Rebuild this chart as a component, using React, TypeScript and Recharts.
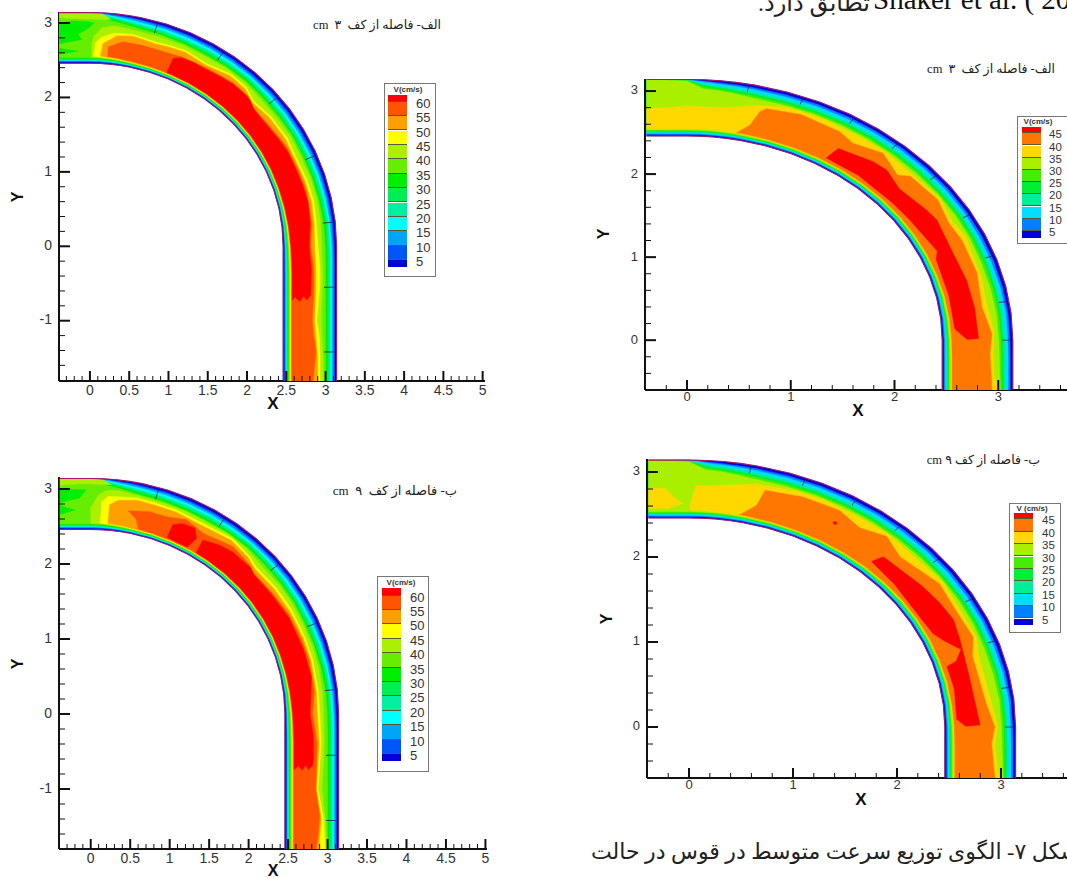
import { Scatter, ScatterChart, XAxis, YAxis } from "recharts";

type Pt = [number, number];

// s < 0: inlet, x = s / 100. 0..90: bend angle in degrees. s > 90: outlet, y = -(s - 90) / 100
const stations = [-39, 0, 3, 6, 9, 12, 18, 24, 30, 36, 42, 48, 54, 60, 66, 72, 78, 84, 90, 110, 130, 150, 190, 230, 271];
const innerWall = 2.46;
const outerWall = 3.14;

// width of the inner wall bands at each station
const leftInner = [0.115, 0.115, 0.11, 0.1, 0.09, 0.08, 0.075, 0.07, 0.07, 0.07, 0.07, 0.07, 0.07, 0.07, 0.07, 0.07, 0.075, 0.085, 0.1, 0.11, 0.115, 0.115, 0.115, 0.115, 0.115];
const rightInner = [0.115, 0.115, 0.115, 0.11, 0.105, 0.1, 0.095, 0.09, 0.09, 0.09, 0.09, 0.09, 0.09, 0.09, 0.09, 0.09, 0.095, 0.1, 0.11, 0.115, 0.115, 0.115];

// ---- 60 cm/s scale (left column) ----
const leftLevels = ["60", "55", "50", "45", "40", "35", "30", "25", "20", "15", "10", "5"];
const leftColors = ["#ff0000", "#ff5500", "#ffa000", "#ffff00", "#aaf000", "#66ee00", "#00ee00", "#00ee55", "#00f0a0", "#00ffff", "#00a5f5", "#0055f5", "#0000d8"];

const leftRow5 = [3.14, 3.14, 3.135, 3.125, 3.118, 3.112, 3.108, 3.105, 3.105, 3.105, 3.105, 3.106, 3.105, 3.105, 3.106, 3.105, 3.105, 3.108, 3.11, 3.115, 3.115, 3.115, 3.115, 3.115, 3.115];
const leftRow10 = [3.14, 3.14, 3.13, 3.115, 3.105, 3.098, 3.09, 3.088, 3.085, 3.085, 3.085, 3.086, 3.085, 3.085, 3.086, 3.085, 3.088, 3.09, 3.095, 3.1, 3.1, 3.1, 3.1, 3.1, 3.1];
const leftRow15 = [3.14, 3.14, 3.12, 3.1, 3.085, 3.075, 3.068, 3.062, 3.06, 3.06, 3.062, 3.06, 3.06, 3.06, 3.06, 3.062, 3.065, 3.07, 3.075, 3.08, 3.08, 3.08, 3.08, 3.08, 3.08];
const leftRow20 = [3.14, 3.14, 3.105, 3.085, 3.065, 3.05, 3.04, 3.035, 3.035, 3.035, 3.04, 3.035, 3.035, 3.035, 3.035, 3.04, 3.045, 3.05, 3.055, 3.06, 3.06, 3.06, 3.06, 3.06, 3.06];
const leftRow25 = [3.14, 3.135, 3.09, 3.07, 3.045, 3.03, 3.02, 3.012, 3.01, 3.012, 3.02, 3.01, 3.01, 3.01, 3.01, 3.015, 3.02, 3.03, 3.035, 3.04, 3.04, 3.04, 3.04, 3.04, 3.04];
const leftRow30 = [3.14, 3.13, 3.075, 3.055, 3.03, 3.01, 3.0, 2.99, 2.985, 2.99, 3.0, 2.985, 2.985, 2.985, 2.985, 2.99, 3.0, 3.01, 3.015, 3.02, 3.02, 3.02, 3.02, 3.02, 3.02];
const leftRow35 = [3.14, 3.12, 3.06, 3.035, 3.01, 2.99, 2.98, 2.97, 2.965, 2.975, 2.98, 2.97, 2.97, 2.975, 2.97, 2.975, 2.98, 2.99, 2.995, 3.0, 3.0, 3.0, 3.0, 3.0, 3.0];

const aLime: Pt[] = [[0.5, 2.545], [0.5, 2.72], [1, 2.82], [3, 2.94], [6, 2.98], [9, 2.965], [12, 2.955], [18, 2.95], [24, 2.95], [30, 2.945], [36, 2.955], [42, 2.955], [48, 2.94], [54, 2.94], [60, 2.95], [66, 2.945], [72, 2.955], [78, 2.96], [84, 2.955], [90, 2.95], [130, 2.965], [190, 2.945], [230, 2.965], [271, 2.975]];
const aYellow: Pt[] = [[1, 2.555], [1.5, 2.74], [3, 2.81], [6, 2.88], [11, 2.9], [17, 2.87], [21, 2.885], [25, 2.9], [31, 2.87], [38, 2.93], [43, 2.92], [47, 2.855], [53, 2.89], [60, 2.905], [65, 2.885], [72, 2.905], [78, 2.915], [84, 2.9], [90, 2.905], [120, 2.93], [140, 2.93], [190, 2.89], [210, 2.92], [240, 2.93], [271, 2.93]];
const aOrange: Pt[] = [[3, 2.565], [3.5, 2.73], [5, 2.78], [7, 2.85], [11, 2.875], [17, 2.845], [21, 2.86], [25, 2.875], [31, 2.845], [38, 2.905], [43, 2.895], [47, 2.83], [53, 2.865], [60, 2.875], [65, 2.86], [72, 2.875], [78, 2.885], [84, 2.87], [90, 2.86], [120, 2.875], [150, 2.875], [190, 2.86], [210, 2.875], [240, 2.9], [271, 2.9]];
const aDeep: Pt[] = [[5, 2.575], [5, 2.69], [8.7, 2.78], [14, 2.78], [20.6, 2.78], [24.7, 2.8], [32, 2.82], [39.6, 2.855], [45, 2.85], [48, 2.79], [54.6, 2.8], [62, 2.84], [69, 2.845], [75, 2.855], [84, 2.84], [90, 2.81], [120, 2.85], [150, 2.85], [190, 2.83], [210, 2.85], [232, 2.88], [250, 2.86], [271, 2.84]];
const aRed: Pt[] = [[22.7, 2.55], [22.8, 2.74], [24.7, 2.79], [28, 2.8], [32, 2.8], [36, 2.82], [40, 2.84], [44, 2.84], [46, 2.83], [49, 2.78], [55, 2.78], [59, 2.8], [63, 2.82], [68, 2.82], [73, 2.83], [78, 2.84], [84, 2.82], [90, 2.79], [120, 2.82], [156, 2.81], [162, 2.76], [157, 2.72], [164.5, 2.67], [158, 2.61], [162, 2.58]];
const aInletLime: Pt[] = [[-39, 3.14], [0, 3.14], [3, 3.13], [5, 3.06], [0, 3.05], [-39, 3.07]];
const aInletGreen: Pt[] = [[-39, 3.0], [-20, 3.03], [-5, 3.02], [1, 3.0], [-3, 2.92], [-15, 2.85], [-10, 2.78], [-39, 2.72]];
const aInletStreak: Pt[] = [[-39, 2.66], [-15, 2.62], [-39, 2.58]];

const cLime: Pt[] = [[0, 2.545], [0, 2.75], [2, 2.93], [4, 2.99], [7, 3.0], [12, 2.97], [18, 2.96], [24, 2.96], [30, 2.95], [36, 2.965], [42, 2.96], [48, 2.93], [54, 2.945], [60, 2.95], [66, 2.945], [72, 2.95], [78, 2.955], [84, 2.95], [90, 2.95], [130, 2.96], [190, 2.93], [230, 2.97], [271, 3.0]];
const cYellow: Pt[] = [[2.7, 2.555], [2.8, 2.83], [4.3, 2.91], [11.3, 2.94], [16.5, 2.93], [21.8, 2.93], [29, 2.91], [37.6, 2.95], [43.8, 2.91], [47, 2.87], [54.4, 2.89], [61, 2.9], [64, 2.895], [69.5, 2.9], [75.5, 2.905], [84, 2.9], [90, 2.905], [130, 2.92], [190, 2.88], [230, 2.95], [271, 2.97]];
const cOrange: Pt[] = [[4.9, 2.565], [4.9, 2.8], [7, 2.87], [11.6, 2.91], [16.5, 2.9], [21.8, 2.9], [29, 2.88], [37.6, 2.92], [43.8, 2.885], [47, 2.84], [54.4, 2.86], [61, 2.87], [64, 2.87], [69.5, 2.875], [75.5, 2.88], [84, 2.875], [90, 2.87], [130, 2.895], [190, 2.86], [230, 2.92], [255, 2.9], [271, 2.89]];
const cDeep: Pt[] = [[13.6, 2.55], [12.5, 2.66], [9.9, 2.75], [15.5, 2.8], [20, 2.8], [25, 2.86], [30.7, 2.8], [39, 2.87], [45.4, 2.83], [48, 2.79], [54.8, 2.81], [62, 2.84], [69, 2.85], [75, 2.86], [84, 2.85], [90, 2.81], [130, 2.87], [190, 2.85], [225, 2.9], [255, 2.88], [271, 2.85]];
const cRedBlob: Pt[] = [[22.3, 2.545], [22.4, 2.73], [24.4, 2.79], [28, 2.81], [29.8, 2.7], [28.8, 2.54], [25.5, 2.535]];
const cRed: Pt[] = [[31.8, 2.545], [31.5, 2.72], [36, 2.78], [39.8, 2.81], [46, 2.81], [48, 2.78], [54.8, 2.79], [63, 2.82], [72, 2.83], [80, 2.84], [90, 2.78], [120, 2.82], [150, 2.82], [155, 2.815], [159, 2.81], [164, 2.76], [158, 2.72], [165, 2.68], [159, 2.63], [164, 2.58]];
const cInletLime: Pt[] = [[-39, 3.14], [0, 3.14], [3, 3.12], [5, 3.07], [-10, 3.07], [-39, 3.05]];
const cInletGreen: Pt[] = [[-39, 3.0], [-6, 2.99], [-14, 2.88], [-39, 2.82]];
const cInletStreak: Pt[] = [[-39, 2.78], [-20, 2.72], [-39, 2.66]];

// ---- 45 cm/s scale (right column) ----
const rightLevels = ["45", "40", "35", "30", "25", "20", "15", "10", "5"];
const rightColors = ["#ff0000", "#ff7700", "#ffd800", "#aaee00", "#44ee00", "#00ee33", "#00ee99", "#00ddff", "#0080ff", "#0000d8"];

const rightRow5 = [3.14, 3.14, 3.125, 3.115, 3.11, 3.108, 3.105, 3.105, 3.105, 3.105, 3.105, 3.105, 3.105, 3.105, 3.105, 3.105, 3.107, 3.11, 3.112, 3.115, 3.115, 3.115];
const rightRow10 = [3.14, 3.14, 3.11, 3.1, 3.09, 3.085, 3.08, 3.08, 3.08, 3.08, 3.08, 3.08, 3.08, 3.08, 3.08, 3.08, 3.085, 3.09, 3.092, 3.095, 3.095, 3.095];
const rightRow15 = [3.14, 3.135, 3.09, 3.08, 3.065, 3.055, 3.05, 3.05, 3.05, 3.05, 3.05, 3.05, 3.05, 3.05, 3.05, 3.05, 3.055, 3.06, 3.065, 3.07, 3.07, 3.07];
const rightRow20 = [3.14, 3.13, 3.07, 3.055, 3.04, 3.03, 3.025, 3.025, 3.025, 3.025, 3.025, 3.025, 3.025, 3.03, 3.03, 3.03, 3.035, 3.04, 3.045, 3.05, 3.05, 3.05];
const rightRow25 = [3.14, 3.125, 3.05, 3.035, 3.02, 3.01, 3.005, 3.005, 3.005, 3.005, 3.005, 3.005, 3.005, 3.01, 3.01, 3.01, 3.015, 3.02, 3.025, 3.03, 3.03, 3.03];
const rightRow30 = [3.14, 3.12, 3.03, 3.02, 3.0, 2.985, 2.98, 2.985, 2.985, 2.985, 2.985, 2.985, 2.99, 2.99, 2.99, 2.985, 2.99, 3.0, 3.005, 3.01, 3.015, 3.02];

const bYellow: Pt[] = [[-39, 2.79], [-20, 2.8], [0, 2.82], [7, 2.82], [13, 2.9], [19, 2.97], [26, 2.97], [33, 2.96], [40, 2.97], [46, 2.95], [55, 2.98], [61, 2.93], [65, 2.96], [75, 2.94], [81, 2.92], [88, 2.96], [110, 2.95], [130, 2.96], [150, 3.0]];
const bOrange: Pt[] = [[10.8, 2.54], [13.2, 2.66], [14.3, 2.84], [15.4, 2.89], [22, 2.93], [30.4, 2.91], [34, 2.86], [40, 2.94], [45.6, 2.84], [47.5, 2.92], [55, 2.95], [60.8, 2.89], [65.6, 2.91], [73.8, 2.91], [82, 2.87], [88.5, 2.94], [106, 2.92], [150, 2.94]];
const bRed: Pt[] = [[31.4, 2.57], [32.3, 2.73], [39.9, 2.8], [43.3, 2.81], [48.3, 2.74], [55.8, 2.79], [59, 2.81], [67.8, 2.77], [75, 2.79], [82, 2.8], [89.6, 2.81], [89.8, 2.7], [87, 2.585], [78, 2.58], [68, 2.59], [66, 2.64], [62, 2.61], [56, 2.59], [50, 2.58], [40, 2.58]];

const dYellowBlob: Pt[] = [[-39, 2.81], [-23, 2.81], [-15, 2.71], [-6, 2.63], [-21, 2.57], [-39, 2.57]];
const dYellow: Pt[] = [[0.2, 2.55], [0.2, 2.62], [1.4, 2.84], [6, 2.86], [13, 2.93], [20, 2.96], [26, 2.97], [33, 2.96], [40, 2.97], [46, 2.95], [55, 2.98], [61, 2.95], [69, 2.96], [73, 2.91], [84, 2.92], [90, 2.97], [110, 2.94], [150, 2.98]];
const dOrange: Pt[] = [[11, 2.54], [14, 2.69], [14.7, 2.88], [22, 2.92], [29.6, 2.93], [35, 2.86], [40.3, 2.94], [45.4, 2.85], [55, 2.94], [60.9, 2.91], [68.8, 2.93], [73, 2.85], [84.4, 2.87], [90, 2.94], [109, 2.91], [150, 2.94]];
const dRed: Pt[] = [[42, 2.62], [43, 2.74], [53.7, 2.79], [58.9, 2.82], [63.6, 2.84], [68.6, 2.8], [77.6, 2.76], [89.5, 2.8], [89.8, 2.66], [88, 2.575], [80, 2.59], [74, 2.58], [73.3, 2.68], [70.8, 2.77], [67.4, 2.65], [64.9, 2.59], [60.7, 2.57], [50, 2.59]];
const dRedSpeck: Pt[] = [[29.8, 2.78], [30.3, 2.8], [30.8, 2.78], [30.3, 2.76]];

// short grid marks crossing the outer bands: [station, from r, to r]
const leftMarks = [[16, 2.98, 3.1], [33, 2.98, 3.1], [50, 2.98, 3.1], [67, 2.98, 3.1], [84, 2.98, 3.1], [145, 2.98, 3.1], [232, 2.98, 3.1]];
const rightMarks = [[11, 3.04, 3.12], [21, 3.04, 3.12], [31, 3.04, 3.12], [40.6, 3.04, 3.12], [50.5, 3.04, 3.12], [61, 3.04, 3.12], [71, 3.04, 3.12], [81.4, 3.04, 3.12], [90, 3.04, 3.12]];

const leftXTicks = [-0.3, -0.2, -0.1, 0, 0.1, 0.2, 0.3, 0.4, 0.5, 0.6, 0.7, 0.8, 0.9, 1, 1.1, 1.2, 1.3, 1.4, 1.5, 1.6, 1.7, 1.8, 1.9, 2, 2.1, 2.2, 2.3, 2.4, 2.5, 2.6, 2.7, 2.8, 2.9, 3, 3.1, 3.2, 3.3, 3.4, 3.5, 3.6, 3.7, 3.8, 3.9, 4, 4.1, 4.2, 4.3, 4.4, 4.5, 4.6, 4.7, 4.8, 4.9, 5];
const leftXLabels = [0, 0.5, 1, 1.5, 2, 2.5, 3, 3.5, 4, 4.5, 5];
const leftYTicks = [-1.6, -1.4, -1.2, -1, -0.8, -0.6, -0.4, -0.2, 0, 0.2, 0.4, 0.6, 0.8, 1, 1.2, 1.4, 1.6, 1.8, 2, 2.2, 2.4, 2.6, 2.8, 3];
const leftYLabels = [-1, 0, 1, 2, 3];
const rightXTicks = [-0.2, 0, 0.2, 0.4, 0.6, 0.8, 1, 1.2, 1.4, 1.6, 1.8, 2, 2.2, 2.4, 2.6, 2.8, 3, 3.2, 3.4, 3.6];
const rightXLabels = [0, 1, 2, 3];
const rightYTicks = [-0.4, -0.2, 0, 0.2, 0.4, 0.6, 0.8, 1, 1.2, 1.4, 1.6, 1.8, 2, 2.2, 2.4, 2.6, 2.8, 3];
const rightYLabels = [0, 1, 2, 3];

const toXY = ([s, r]: Pt) => {
  if (s < 0) return { x: s / 100, y: r };
  if (s > 90) return { x: r, y: -(s - 90) / 100 };
  const a = (s * Math.PI) / 180;
  return { x: r * Math.sin(a), y: r * Math.cos(a) };
};

const nearestIndex = (s: number) => {
  let best = 0;
  stations.forEach((v, i) => {
    if (Math.abs(v - s) < Math.abs(stations[best] - s)) best = i;
  });
  return best;
};

// closed region: outer edge as read, back along the inner wall bands.
// rIn is the level's position on the outlet, scaled by the band width at each station
const band = (outer: Pt[], rIn: number, widths: number[]): Pt[] => {
  const first = outer[0][0];
  const last = outer[outer.length - 1][0];
  const inner = (s: number) => innerWall + ((rIn - innerWall) / 0.12) * widths[Math.min(nearestIndex(s), widths.length - 1)];
  const back = stations.filter((s) => s > first && s < last).reverse();
  return [...outer, [last, inner(last)], ...back.map((s) => [s, inner(s)] as Pt), [first, inner(first)]];
};
const row = (values: number[]): Pt[] => values.map((r, i) => [stations[i], r]);

type Layer = [Pt[], string];

const leftBase = (): Layer[] => [
  [band(row(stations.map(() => outerWall)), innerWall, leftInner), leftColors[12]],
  [band(row(leftRow5), 2.478, leftInner), leftColors[11]],
  [band(row(leftRow10), 2.488, leftInner), leftColors[10]],
  [band(row(leftRow15), 2.497, leftInner), leftColors[9]],
  [band(row(leftRow20), 2.505, leftInner), leftColors[8]],
  [band(row(leftRow25), 2.515, leftInner), leftColors[7]],
  [band(row(leftRow30), 2.525, leftInner), leftColors[6]],
  [band(row(leftRow35), 2.535, leftInner), leftColors[5]],
];
const rightBase = (): Layer[] => [
  [band(row(stations.slice(0, 22).map(() => outerWall)), innerWall, rightInner), rightColors[9]],
  [band(row(rightRow5), 2.478, rightInner), rightColors[8]],
  [band(row(rightRow10), 2.49, rightInner), rightColors[7]],
  [band(row(rightRow15), 2.505, rightInner), rightColors[6]],
  [band(row(rightRow20), 2.515, rightInner), rightColors[5]],
  [band(row(rightRow25), 2.525, rightInner), rightColors[4]],
  [band(row(rightRow30), 2.535, rightInner), rightColors[3]],
];

const layersA: Layer[] = [
  ...leftBase(),
  [aInletLime, leftColors[4]],
  [aInletGreen, leftColors[6]],
  [aInletStreak, leftColors[6]],
  [band(aLime, 2.545, leftInner), leftColors[4]],
  [band(aYellow, 2.555, leftInner), leftColors[3]],
  [band(aOrange, 2.565, leftInner), leftColors[2]],
  [band(aDeep, 2.575, leftInner), leftColors[1]],
  [band(aRed, 2.58, leftInner), leftColors[0]],
];
const layersC: Layer[] = [
  ...leftBase(),
  [cInletLime, leftColors[4]],
  [cInletGreen, leftColors[6]],
  [cInletStreak, leftColors[6]],
  [band(cLime, 2.545, leftInner), leftColors[4]],
  [band(cYellow, 2.555, leftInner), leftColors[3]],
  [band(cOrange, 2.565, leftInner), leftColors[2]],
  [band(cDeep, 2.575, leftInner), leftColors[1]],
  [cRedBlob, leftColors[0]],
  [band(cRed, 2.58, leftInner), leftColors[0]],
];
const layersB: Layer[] = [
  ...rightBase(),
  [band(bYellow, 2.55, rightInner), rightColors[2]],
  [band(bOrange, 2.56, rightInner), rightColors[1]],
  [bRed, rightColors[0]],
];
const layersD: Layer[] = [
  ...rightBase(),
  [dYellowBlob, rightColors[2]],
  [band(dYellow, 2.55, rightInner), rightColors[2]],
  [band(dOrange, 2.56, rightInner), rightColors[1]],
  [dRed, rightColors[0]],
  [dRedSpeck, rightColors[0]],
];

const noMark = () => <g />;

type PanelProps = {
  left: number;
  top: number;
  width: number;
  height: number;
  axisLeft: number;
  axisBottom: number;
  plotRight: number;
  xDomain: number[];
  yDomain: number[];
  xTicks: number[];
  xLabels: number[];
  yTicks: number[];
  yLabels: number[];
  layers: Layer[];
  marks: number[][];
  lastStation: number;
  fontSize: number;
  labelGap: number;
};

function ContourPanel(p: PanelProps) {
  const wallStations = stations.filter((s) => s <= p.lastStation);
  const walls = [innerWall, outerWall].map((r) => wallStations.map((s) => toXY([s, r])));
  return (
    <div style={{ position: "absolute", left: p.left, top: p.top }}>
      <ScatterChart width={p.width} height={p.height} margin={{ top: 12, right: p.plotRight, bottom: 0, left: 0 }}>
        <XAxis
          type="number"
          dataKey="x"
          domain={p.xDomain}
          ticks={p.xTicks}
          interval={0}
          height={p.axisBottom}
          tickSize={0}
          tickMargin={0}
          tickLine={false}
          axisLine={{ stroke: "#111", strokeWidth: 2 }}
          allowDataOverflow
          tick={(t: any) => {
            const major = p.xLabels.includes(t.payload.value);
            return (
              <g>
                <line x1={t.x} x2={t.x} y1={t.y} y2={t.y - (major ? 10 : 5)} stroke="#111" strokeWidth={major ? 2 : 1} />
                {major && (
                  <text x={t.x} y={t.y + p.labelGap} textAnchor="middle" dominantBaseline="middle" fontFamily="Liberation Sans" fontSize={p.fontSize} fill="#333">
                    {t.payload.value}
                  </text>
                )}
              </g>
            );
          }}
        />
        <YAxis
          type="number"
          dataKey="y"
          domain={p.yDomain}
          ticks={p.yTicks}
          interval={0}
          width={p.axisLeft}
          tickSize={0}
          tickMargin={0}
          tickLine={false}
          axisLine={{ stroke: "#111", strokeWidth: 2 }}
          allowDataOverflow
          tick={(t: any) => {
            const major = p.yLabels.includes(t.payload.value);
            return (
              <g>
                <line x1={t.x} x2={t.x + (major ? 11 : 6)} y1={t.y} y2={t.y} stroke="#111" strokeWidth={major ? 2 : 1} />
                {major && (
                  <text x={t.x - 7} y={t.y} textAnchor="end" dominantBaseline="middle" fontFamily="Liberation Sans" fontSize={p.fontSize} fill="#333">
                    {t.payload.value}
                  </text>
                )}
              </g>
            );
          }}
        />
        {p.layers.map(([points, fill], i) => (
          <Scatter
            key={i}
            data={points.map(toXY)}
            shape={noMark}
            line={{ fill, stroke: fill, strokeWidth: 0.4 }}
            isAnimationActive={false}
          />
        ))}
        {p.marks.map(([s, r1, r2], i) => (
          <Scatter
            key={"m" + i}
            data={[toXY([s, r1]), toXY([s, r2])]}
            shape={noMark}
            line={{ stroke: "#224", strokeWidth: 0.8, fill: "none" }}
            isAnimationActive={false}
          />
        ))}
        {walls.map((w, i) => (
          <Scatter key={"w" + i} data={w} shape={noMark} line={{ stroke: "#a0186c", strokeWidth: 1.1, fill: "none" }} isAnimationActive={false} />
        ))}
      </ScatterChart>
    </div>
  );
}

type LegendProps = {
  left: number;
  top: number;
  width: number;
  height: number;
  title: string;
  titleX: number;
  titleY: number;
  swatchLeft: number;
  swatchTop: number;
  first: number;
  step: number;
  last: number;
  labelLeft: number;
  labels: string[];
  colors: string[];
  fontSize: number;
};

function ColorLegend(l: LegendProps) {
  const tops = l.colors.map((_, i) => (i === 0 ? l.swatchTop : l.swatchTop + l.first + (i - 1) * l.step));
  return (
    <>
      <div style={{ position: "absolute", left: l.left, top: l.top, width: l.width, height: l.height, border: "1.5px solid #777", background: "#fff", boxSizing: "border-box" }} />
      <div style={{ position: "absolute", left: l.titleX, top: l.titleY, transform: "translate(-50%,-50%)", font: "bold 8px 'Liberation Sans'", color: "#333", whiteSpace: "nowrap" }}>
        {l.title}
      </div>
      {l.colors.map((c, i) => (
        <div
          key={c}
          style={{
            position: "absolute",
            left: l.swatchLeft,
            top: tops[i],
            width: 19,
            height: i === 0 ? l.first : i === l.colors.length - 1 ? l.last : l.step,
            background: c,
            borderBottom: i === l.colors.length - 1 ? "none" : "1px solid #5a5a3a",
            boxSizing: "border-box",
          }}
        />
      ))}
      {l.labels.map((t, i) => (
        <div key={t} style={{ position: "absolute", left: l.labelLeft, top: tops[i + 1] + 1, transform: "translateY(-50%)", font: `${l.fontSize}px 'Liberation Sans'`, color: "#333" }}>
          {t}
        </div>
      ))}
    </>
  );
}

const persian = "'Liberation Serif', 'DejaVu Sans', serif";

function RtlText({ right, y, size, children }: { right: number; y: number; size: number; children: string }) {
  return (
    <div dir="rtl" style={{ position: "absolute", right: 1067 - right, top: y, transform: "translateY(-50%)", font: `${size}px ${persian}`, color: "#222", whiteSpace: "pre" }}>
      {children}
    </div>
  );
}

function AxisName({ x, y, rotate, size, children }: { x: number; y: number; rotate?: boolean; size: number; children: string }) {
  return (
    <div style={{ position: "absolute", left: x, top: y, transform: `translate(-50%,-50%)${rotate ? " rotate(-90deg)" : ""}`, font: `bold ${size}px 'Liberation Sans'`, color: "#111" }}>
      {children}
    </div>
  );
}

export default function App() {
  return (
    <div style={{ position: "fixed", left: 0, top: 0, width: 1067, height: 878, overflow: "hidden", background: "#fff" }}>
      <ContourPanel left={0} top={0} width={490} height={420} axisLeft={59} axisBottom={39} plotRight={5} xDomain={[-0.394, 5.03]} yDomain={[-1.81, 3.148]} xTicks={leftXTicks} xLabels={leftXLabels} yTicks={leftYTicks} yLabels={leftYLabels} layers={layersA} marks={leftMarks} lastStation={271} fontSize={14} labelGap={10} />
      <ContourPanel left={0} top={465} width={492} height={413} axisLeft={59} axisBottom={29} plotRight={5} xDomain={[-0.402, 5.02]} yDomain={[-1.8, 3.16]} xTicks={leftXTicks} xLabels={leftXLabels} yTicks={leftYTicks} yLabels={leftYLabels} layers={layersC} marks={leftMarks} lastStation={271} fontSize={14} labelGap={10} />
      <ContourPanel left={590} top={67} width={520} height={345} axisLeft={55} axisBottom={22} plotRight={8} xDomain={[-0.405, 4]} yDomain={[-0.6, 3.145]} xTicks={rightXTicks} xLabels={rightXLabels} yTicks={rightYTicks} yLabels={rightYLabels} layers={layersB} marks={rightMarks} lastStation={150} fontSize={13} labelGap={8} />
      <ContourPanel left={590} top={447} width={523} height={360} axisLeft={57} axisBottom={29} plotRight={8} xDomain={[-0.404, 4]} yDomain={[-0.6, 3.153]} xTicks={rightXTicks} xLabels={rightXLabels} yTicks={rightYTicks} yLabels={rightYLabels} layers={layersD} marks={rightMarks} lastStation={150} fontSize={13} labelGap={8} />

      <ColorLegend left={384} top={83} width={52} height={194} title="V(cm/s)" titleX={408} titleY={89} swatchLeft={388} swatchTop={95} first={6.7} step={14.4} last={7.3} labelLeft={416} labels={leftLevels} colors={leftColors} fontSize={13} />
      <ColorLegend left={377} top={576} width={52} height={196} title="V(cm/s)" titleX={401} titleY={582} swatchLeft={382} swatchTop={588.3} first={7.3} step={14.4} last={7.3} labelLeft={410} labels={leftLevels} colors={leftColors} fontSize={13} />
      <ColorLegend left={1017} top={116} width={60} height={128} title="V(cm/s)" titleX={1038} titleY={121} swatchLeft={1021.7} swatchTop={126.7} first={6.6} step={12.2} last={7} labelLeft={1049} labels={rightLevels} colors={rightColors} fontSize={11.5} />
      <ColorLegend left={1009} top={503} width={52} height={130} title="V (cm/s)" titleX={1032} titleY={508} swatchLeft={1014} swatchTop={512.7} first={6.6} step={12.4} last={6} labelLeft={1042} labels={rightLevels} colors={rightColors} fontSize={11.5} />

      <AxisName x={18} y={197} rotate size={16}>Y</AxisName>
      <AxisName x={273} y={404} size={17}>X</AxisName>
      <AxisName x={18} y={664} rotate size={16}>Y</AxisName>
      <AxisName x={273} y={871} size={16}>X</AxisName>
      <AxisName x={604} y={234} rotate size={16}>Y</AxisName>
      <AxisName x={858} y={411} size={17}>X</AxisName>
      <AxisName x={607} y={619} rotate size={16}>Y</AxisName>
      <AxisName x={861} y={800} size={17}>X</AxisName>

      <RtlText right={441} y={25} size={12.5}>الف- فاصله از کف  cm  ۳</RtlText>
      <RtlText right={1055} y={69} size={12.5}>الف- فاصله از کف  cm  ۳</RtlText>
      <RtlText right={457} y={491} size={13}>ب- فاصله از کف  cm  ۹</RtlText>
      <RtlText right={1040} y={460} size={12.5}>ب- فاصله از کف cm ۹</RtlText>

      <div style={{ position: "absolute", left: 873, top: -17, font: `29px ${persian}`, color: "#111", whiteSpace: "pre" }}>Shaker et al. ( 20</div>
      <RtlText right={870} y={3} size={24}>تطابق دارد.</RtlText>
      <RtlText right={1079} y={852} size={22}>شکل ۷- الگوی توزیع سرعت متوسط در قوس در حالت</RtlText>
    </div>
  );
}
